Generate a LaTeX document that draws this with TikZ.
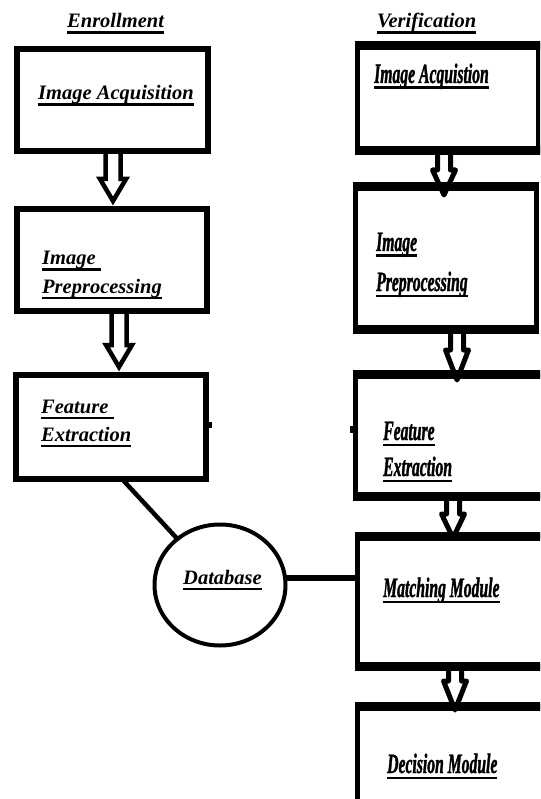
\documentclass[tikz,border=0pt]{standalone}
\usepackage{fontspec}
\setmainfont{Liberation Serif}
\newfontfamily\condfont{Liberation Serif}[FakeStretch=0.56, BoldItalicFeatures={FakeBold=1.2}]
\usetikzlibrary{shapes.geometric}
\pgfdeclarelayer{bg}
\pgfsetlayers{bg,main}
\newcommand\ulin[1]{\setbox0\hbox{#1}\rlap{\vrule width\wd0 height -3.5pt depth 6pt}\box0}
\tikzset{
  lbl/.style={anchor=base west, inner sep=0pt, font=\fontsize{20.5}{24}\selectfont\bfseries\itshape},
  rlbl/.style={anchor=base west, inner sep=0pt, font=\condfont\fontsize{28}{32}\selectfont\bfseries\itshape},
  lbox/.style={draw, line width=6pt, inner sep=0pt, outer sep=0pt},
  rbox/.style={draw, line width=5pt, inner sep=0pt, outer sep=0pt},
  rbar/.style={line width=9pt},
  harrow/.style={draw, fill=white, line width=4.5pt, line join=miter},
  rarrow/.style={draw, fill=white, line width=5pt, line join=round},
}
\begin{document}
\begin{tikzpicture}[x=1pt,y=-1pt]
\useasboundingbox (0,0) rectangle (540,799);
\clip (0,0) rectangle (540,799);

% titles
\node[lbl] (tEn) at (67,28) {\ulin{Enrollment}};
\node[lbl] (tVe) at (377,28) {\ulin{Verification}};

% left boxes
\node[lbox, minimum width=191pt, minimum height=102pt] (L1) at (112.5,100) {};
\node[lbox, minimum width=190pt, minimum height=102pt] (L2) at (112,260) {};
\node[lbox, minimum width=190pt, minimum height=104pt] (L3) at (111,427) {};

% right boxes
\node[rbox, minimum width=180.5pt, minimum height=105pt] (R1) at (447.75,98.5) {};
\node[rbox, minimum width=181pt, minimum height=142pt] (R2) at (446,258) {};
\node[rbox, minimum width=204.5pt, minimum height=122pt] (R3) at (457.75,435) {};
\node[rbox, minimum width=202.5pt, minimum height=130pt] (R4) at (458.75,601) {};
\node[rbox, minimum width=202.5pt, minimum height=123.5pt] (R5) at (458.75,768.25) {};
\foreach \b in {R1,R2,R3,R4,R5}{
  \draw[rbar] ([xshift=-2.5pt]\b.north west) -- ([xshift=2.5pt]\b.north east);
  \draw[rbar] ([xshift=-2.5pt]\b.south west) -- ([xshift=2.5pt]\b.south east);
}

% database
\node[ellipse, draw, line width=4pt, minimum width=131pt, minimum height=121pt, inner sep=0pt, outer sep=0pt] (DB) at (220,585) {};

% labels
\node[lbl] (a1) at (38,100) {\ulin{Image Acquisition}};
\node[lbl] (a2) at (42,265) {\ulin{Image\ }};
\node[lbl] (a3) at (42,293) {\ulin{Preprocessing}};
\node[lbl] (a4) at (41,413) {\ulin{Feature\ }};
\node[lbl] (a5) at (41,441) {\ulin{Extraction}};
\node[lbl] (db) at (183,584) {\ulin{Database}};
\node[rlbl] (b1) at (374,83) {\ulin{Image Acquistion}};
\node[rlbl] (b2) at (376,251) {\ulin{Image}};
\node[rlbl] (b3) at (376,291) {\ulin{Preprocessing}};
\node[rlbl] (b4) at (383,440) {\ulin{Feature}};
\node[rlbl] (b5) at (383,476) {\ulin{Extraction}};
\node[rlbl] (b6) at (383,597) {\ulin{Matching Module}};
\node[rlbl] (b7) at (387,773) {\ulin{Decision Module}};

% connectors
\draw[line width=4.5pt] ([xshift=11pt]L3.south) -- (DB);
\path ([yshift=7pt]DB.east) coordinate (dbe);
\draw[line width=5.5pt] (dbe) -- (dbe -| R4.west);

% small ticks
\fill (209,422) rectangle (212,428);
\fill (350,426) rectangle (353,433);

% block arrows
\begin{pgfonlayer}{bg}
\draw[harrow, shift={(L1.south)}] (-7,0) -- (-7,28) -- (-12.5,28) -- (0.5,50) -- (13.5,28) -- (8,28) -- (8,0) -- cycle;
\draw[harrow, shift={(L2.south)}] (-0.5,0) -- (-0.5,34) -- (-6,34) -- (7,56) -- (20,34) -- (14.5,34) -- (14.5,0) -- cycle;
\draw[rarrow, shift={(R1.south)}] (-10.25,0) -- (-10.25,19) -- (-15.25,19) -- (-3.75,44) -- (7.75,19) -- (2.75,19) -- (2.75,0) -- cycle;
\draw[rarrow, shift={(R2.south)}] (4.5,0) -- (4.5,21) -- (-0.5,21) -- (11,51) -- (22.5,21) -- (17.5,21) -- (17.5,0) -- cycle;
\draw[rarrow, shift={(R3.south)}] (-11.25,0) -- (-11.25,18) -- (-16.25,18) -- (-4.75,42) -- (6.75,18) -- (1.75,18) -- (1.75,0) -- cycle;
\draw[rarrow, shift={(R4.south)}] (-10.25,0) -- (-10.25,15) -- (-15.25,15) -- (-3.75,44) -- (7.75,15) -- (2.75,15) -- (2.75,0) -- cycle;
\end{pgfonlayer}
\end{tikzpicture}
\end{document}
